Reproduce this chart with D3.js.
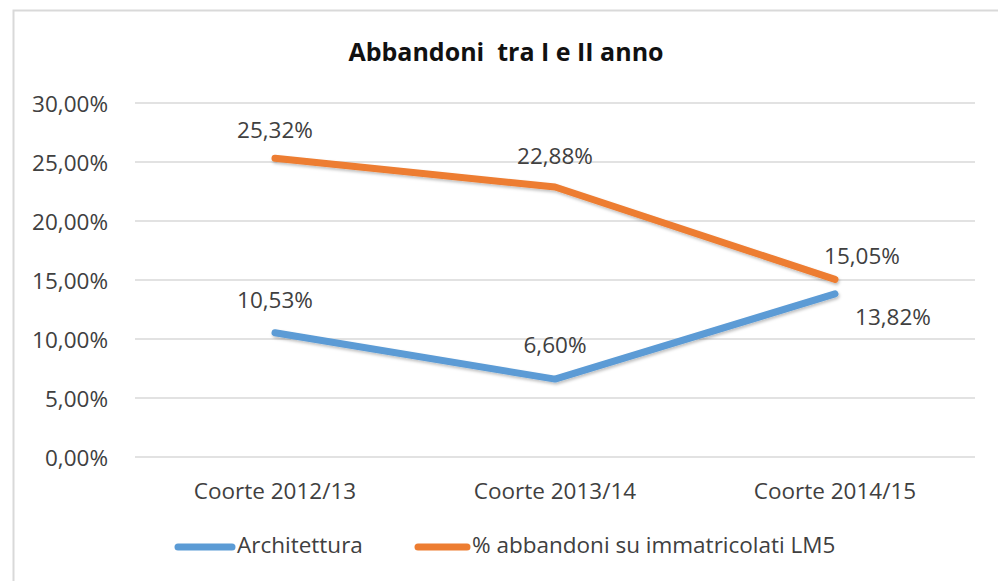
<!DOCTYPE html>
<html><head><meta charset="utf-8">
<script src="https://cdn.jsdelivr.net/npm/d3@7"></script>
<style>
html,body{margin:0;padding:0;background:#fff;}
svg{display:block;}
text{font-family:"Open Sans","Noto Sans",sans-serif;}
</style></head>
<body>
<svg id="chart" width="998" height="581"></svg>
<script>
const title = "Abbandoni  tra I e II anno";
const categories = ["Coorte 2012/13", "Coorte 2013/14", "Coorte 2014/15"];
const seriesNames = ["Architettura", "% abbandoni su immatricolati LM5"];
const architettura = [10.53, 6.60, 13.82];
const abbandoniLM5 = [25.32, 22.88, 15.05];
const yTicks = [0, 5, 10, 15, 20, 25, 30];
const colors = ["#5B9BD5", "#ED7D31"];

const svg = d3.select("#chart");
const W = 998, H = 581;
const margin = {left: 135, right: 23, top: 103, bottom: 124};
const FS = 22.5;

// border
svg.append("rect").attr("x", 13.5).attr("y", 10.5).attr("width", 1000).attr("height", 600)
  .attr("fill", "#fff").attr("stroke", "#d9d9d9").attr("stroke-width", 2);

const x = d3.scaleBand().domain(categories).range([margin.left, W - margin.right]);
const y = d3.scaleLinear().domain([0, 30]).range([H - margin.bottom, margin.top]);
const fmt = v => v.toFixed(2).replace(".", ",") + "%";

// grid
svg.append("g").selectAll("line").data(yTicks).join("line")
  .attr("x1", margin.left).attr("x2", W - margin.right)
  .attr("y1", d => y(d)).attr("y2", d => y(d))
  .attr("stroke", "#d9d9d9").attr("stroke-width", 1.3);

// y axis
const yAxis = svg.append("g").attr("transform", `translate(${margin.left},0)`)
  .call(d3.axisLeft(y).tickValues(yTicks).tickFormat(fmt).tickSize(0).tickPadding(27));
yAxis.select(".domain").remove();
yAxis.selectAll("text").attr("font-size", FS).attr("fill", "#404040")
  .attr("font-family", "Open Sans").attr("dy", "0.36em");

// x axis
const xAxis = svg.append("g").attr("transform", `translate(0,${H - margin.bottom})`)
  .call(d3.axisBottom(x).tickSize(0).tickPadding(0));
xAxis.select(".domain").remove();
xAxis.selectAll("text").attr("font-size", FS).attr("fill", "#404040")
  .attr("font-family", "Open Sans").attr("dy", null).attr("y", 42);

// title
svg.append("text").attr("x", 506).attr("y", 61).attr("text-anchor", "middle")
  .attr("font-size", 25).attr("font-weight", "bold").attr("fill", "#111")
  .attr("xml:space", "preserve").text(title);

const series = [architettura, abbandoniLM5];
const cx = c => x(c) + x.bandwidth() / 2;
const line = d3.line().x((d, i) => cx(categories[i])).y(d => y(d));

const defs = svg.append("defs");
const f = defs.append("filter").attr("id", "sh").attr("x", "-10%").attr("y", "-10%").attr("width", "120%").attr("height", "140%");
f.append("feDropShadow").attr("dx", 1).attr("dy", 2).attr("stdDeviation", 1.5).attr("flood-color", "#000").attr("flood-opacity", 0.25);

series.forEach((s, k) => {
  svg.append("path").datum(s).attr("d", line)
    .attr("fill", "none").attr("stroke", colors[k]).attr("stroke-width", 7)
    .attr("stroke-linecap", "round").attr("stroke-linejoin", "round")
    .attr("filter", "url(#sh)");
});

// data labels (offsets relative to points)
const labelOffsets = [
  [[0, -33], [0, -34], [58, 23]],
  [[0, -28], [0, -31], [27, -24]]
];
series.forEach((s, k) => {
  svg.append("g").selectAll("text").data(s).join("text")
    .attr("x", (d, i) => cx(categories[i]) + labelOffsets[k][i][0])
    .attr("y", (d, i) => y(d) + labelOffsets[k][i][1])
    .attr("dy", "0.36em").attr("text-anchor", "middle")
    .attr("font-size", FS).attr("fill", "#404040")
    .text(fmt);
});

// legend
const legendItems = [{x: 178, tx: 237}, {x: 418, tx: 472}];
const ly = 547;
seriesNames.forEach((n, k) => {
  svg.append("line").attr("x1", legendItems[k].x).attr("x2", legendItems[k].tx - 5)
    .attr("y1", ly).attr("y2", ly).attr("stroke", colors[k]).attr("stroke-width", 7)
    .attr("stroke-linecap", "round");
  svg.append("text").attr("x", legendItems[k].tx).attr("y", 553)
    .attr("font-size", FS).attr("fill", "#404040").text(n);
});
</script>
</body></html>
